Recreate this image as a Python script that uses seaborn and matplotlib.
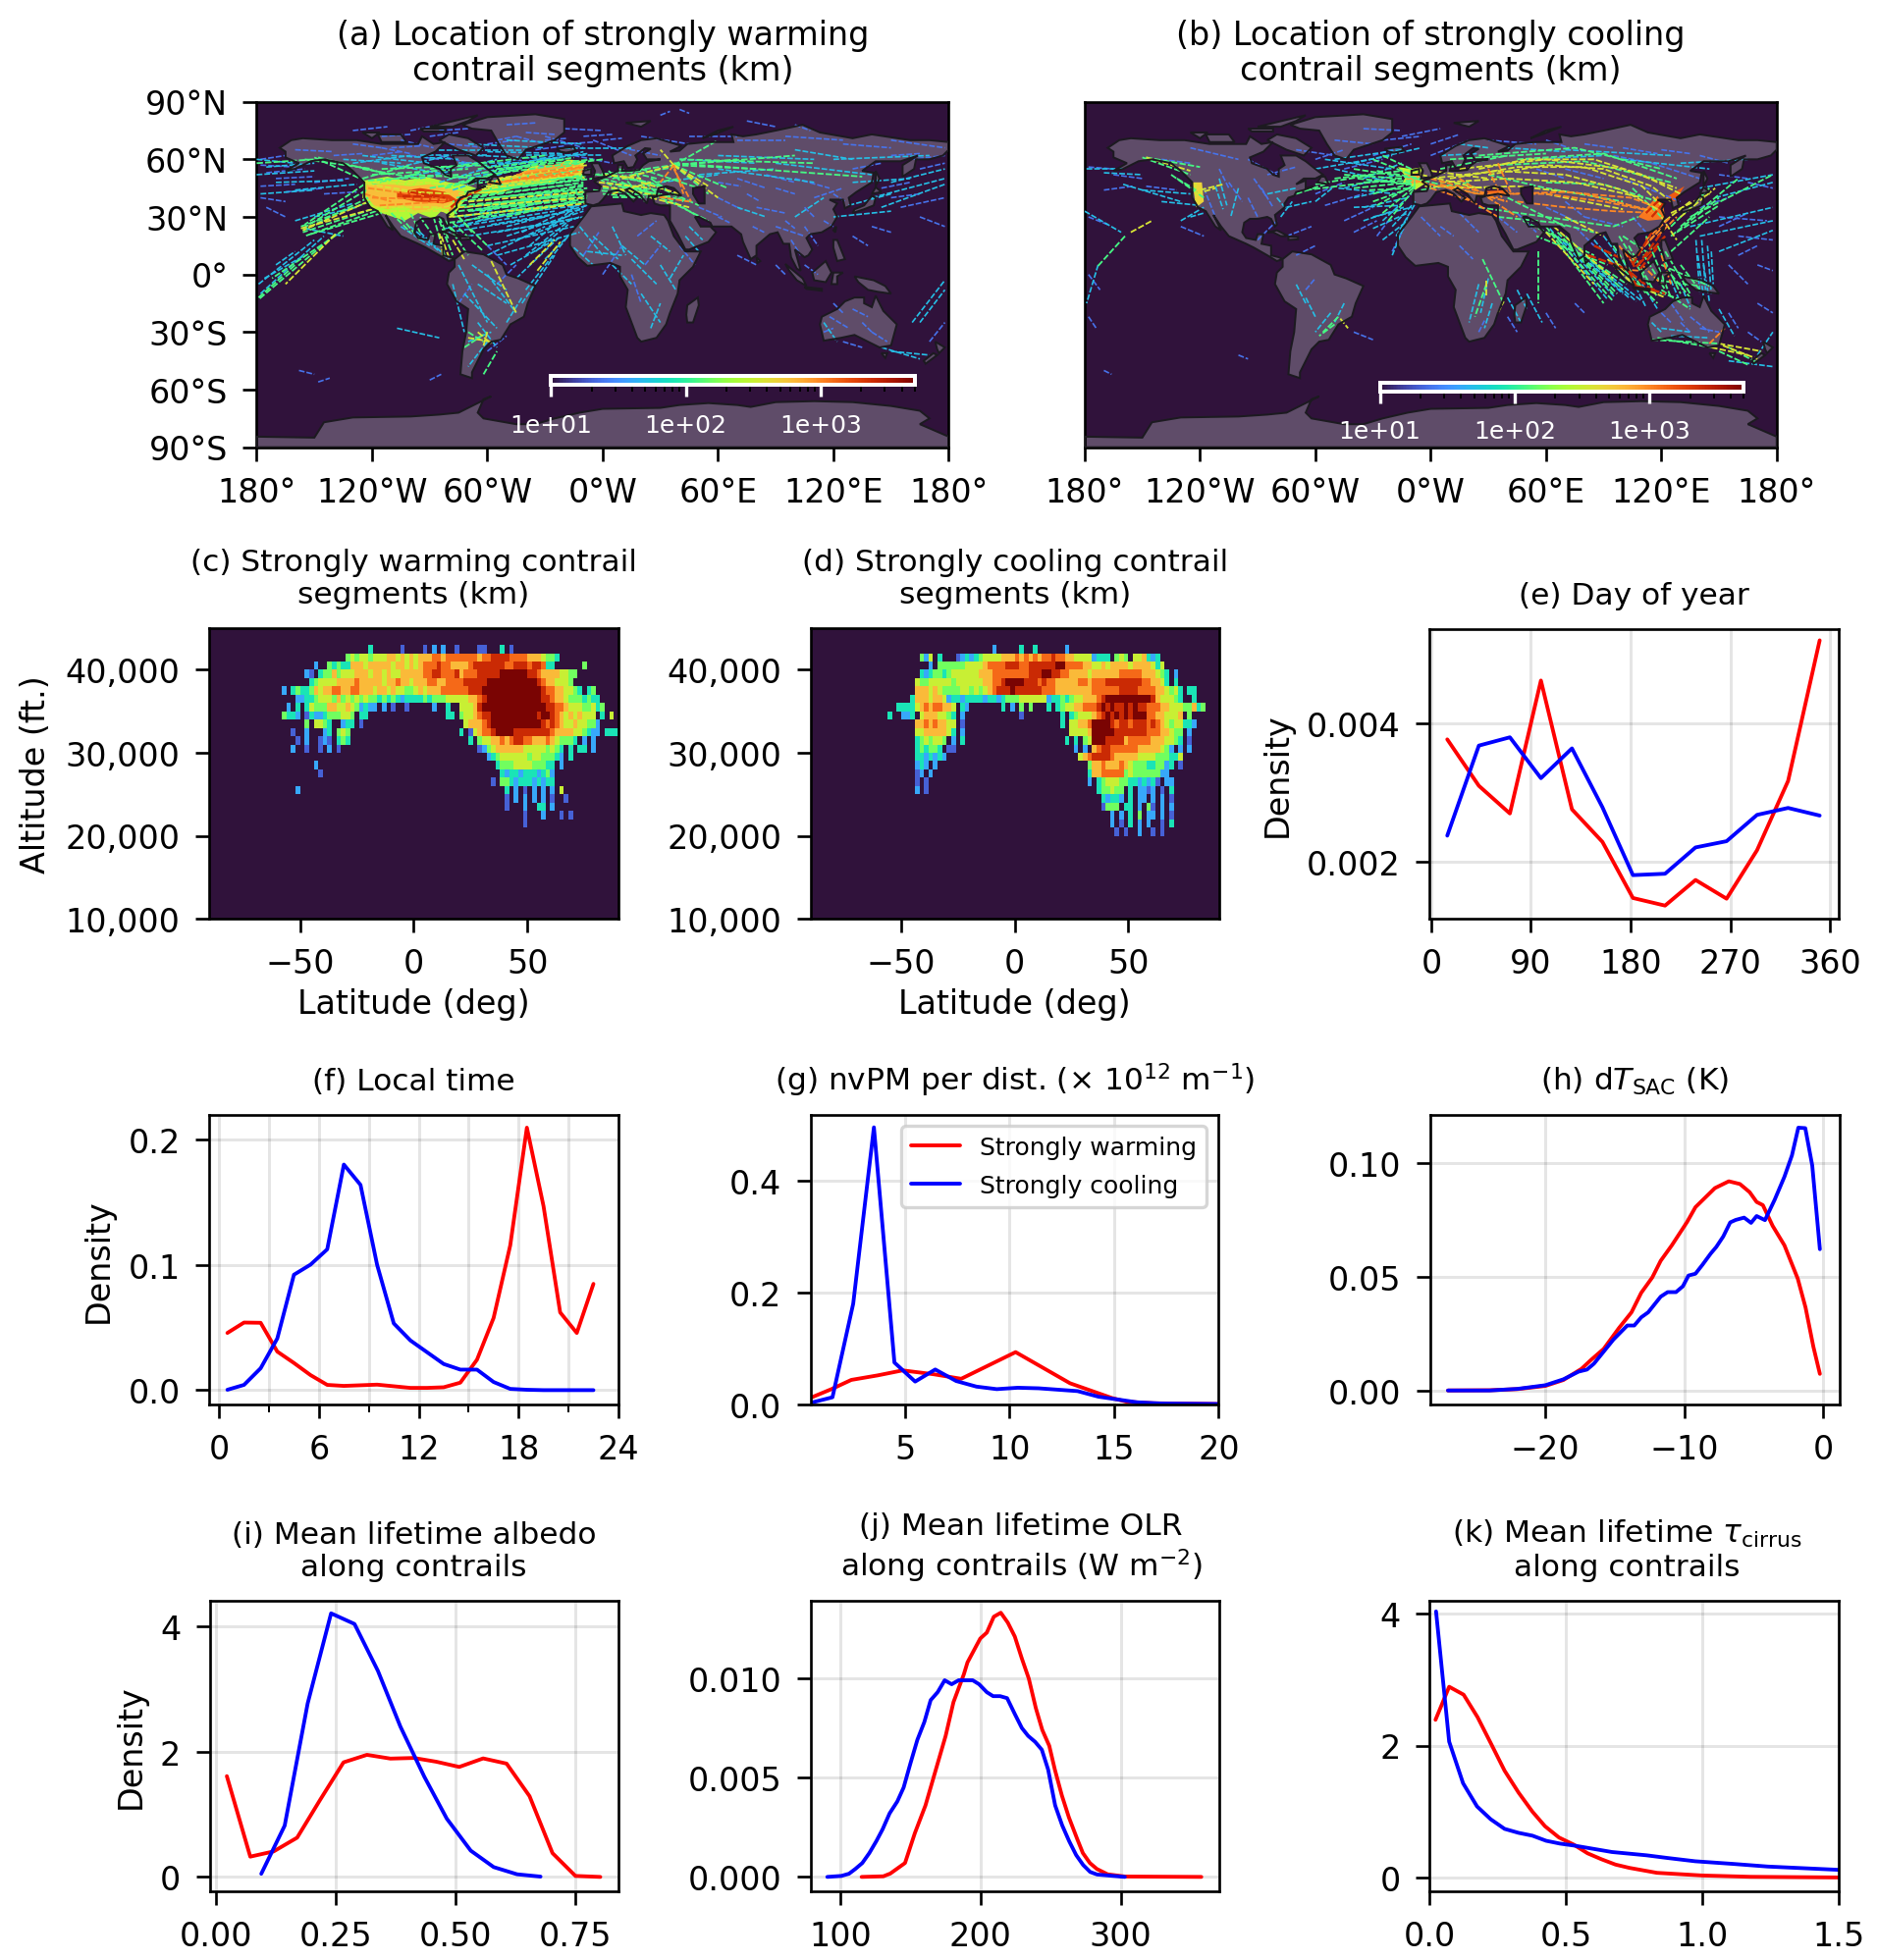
import numpy as np
import pandas as pd
import matplotlib
matplotlib.use('Agg')
import matplotlib.pyplot as plt
from matplotlib.cm import ScalarMappable
from matplotlib.colors import LogNorm
import seaborn as sns

# ---- density curves ----
day_x = [14.5, 43, 71, 99, 127, 154.5, 182, 211, 238.5, 266.5, 294, 322, 350.5]
day_warm = [.00377, .00310, .00270, .00462, .00276, .00229, .00148, .00137, .00174, .00147, .00217, .00317, .00520]
day_cool = [.00238, .00368, .00380, .00321, .00364, .00279, .00181, .00183, .00221, .00230, .00268, .00278, .00267]

hour_x = [.5, 1.5, 2.5, 3.5, 4.5, 5.5, 6.5, 7.5, 8.5, 9.5, 10.5, 11.5, 12.5, 13.5, 14.5, 15.5, 16.5, 17.5, 18.5, 19.5, 20.5, 21.5, 22.5]
hour_warm = [.0457, .054, .0538, .0308, .0217, .012, .0042, .0034, .0039, .0044, .0031, .0018, .0018, .0023, .006, .0243, .0577, .1157, .2097, .147, .0621, .0457, .0849]
hour_cool = [.0003, .0042, .0175, .0413, .0922, .1003, .1125, .1802, .164, .1, .0533, .0397, .0303, .0209, .0164, .0164, .0065, .001, .0003, 0, 0, 0, 0]

nvpm_warm_x = [.5, 1.5, 2.45, 3.7, 4.9, 6.4, 7.7, 10.3, 12.9, 14.9, 15.6, 16.9, 20]
nvpm_warm = [.012, .0275, .044, .052, .061, .054, .046, .0936, .038, .0117, .005, .0023, .001]
nvpm_cool_x = [.5, 1.55, 2.54, 3.53, 4.51, 5.5, 6.46, 7.46, 8.43, 9.4, 10.4, 11.4, 13.26, 14.26, 15, 16.1, 17.3, 20]
nvpm_cool = [.003, .013, .18, .495, .075, .041, .0626, .042, .032, .0275, .030, .029, .024, .014, .010, .004, .0018, .001]

dt_warm_x = [-27, -24, -22, -20, -18.7, -17.4, -16.7, -15.8, -14.7, -13.8, -13.1, -12.3, -11.7, -10.9, -9.8, -9.2, -7.8, -6.8, -6, -5.3, -4.8, -4.35, -3.65, -2.8, -1.84, -1.28, -.72, -.25]
dt_warm = [0, .0001, .0006, .002, .0046, .0095, .0135, .0183, .0275, .0344, .043, .0498, .0571, .0639, .0742, .0807, .0891, .0921, .0909, .0873, .083, .0816, .0725, .0639, .0492, .0365, .0193, .0073]
dt_cool_x = [-27, -24, -22, -20, -18.7, -17.6, -17, -16.5, -15.8, -15.1, -14.1, -13.6, -13.1, -12.6, -11.7, -11.2, -10.6, -10.1, -9.7, -9.2, -8.7, -8.1, -7.7, -7.2, -6.7, -6.3, -5.7, -5.2, -4.8, -4.2, -3.5, -2.8, -2.26, -1.8, -1.3, -.8, -.25]
dt_cool = [0, 0, .0007, .0023, .0049, .0083, .0092, .0118, .0171, .0224, .0286, .0286, .0322, .0344, .0413, .0433, .0433, .0459, .0506, .0514, .0553, .0603, .0632, .0678, .074, .0751, .0761, .0738, .0768, .075, .084, .0941, .1035, .1157, .1155, .0991, .0622]

albedo_warm_x = [.022, .071, .12, .169, .217, .266, .315, .364, .413, .46, .508, .558, .607, .655, .703, .751, .803]
albedo_warm = [1.61, .324, .408, .627, 1.23, 1.83, 1.95, 1.89, 1.90, 1.84, 1.757, 1.893, 1.81, 1.29, .38, .016, 0]
albedo_cool_x = [.094, .143, .191, .24, .289, .338, .385, .435, .482, .532, .58, .629, .678]
albedo_cool = [.05, .82, 2.77, 4.21, 4.04, 3.29, 2.4, 1.6, .93, .42, .157, .042, .005]

olr_warm_x = [115, 130.5, 135.5, 146, 153, 160.6, 168, 175, 180.6, 188, 190.6, 199.7, 204.4, 209.4, 214.4, 219.4, 224.4, 229.4, 234.4, 239.4, 244, 249, 253, 258, 263, 269, 273, 278, 283, 290.7, 303, 357.6]
olr_warm = [0, .00003, .00017, .0007, .0022, .0036, .0054, .0071, .0088, .0102, .0108, .012, .0123, .0131, .0133, .0128, .0121, .011, .00998, .0085, .0074, .0066, .0054, .0041, .003, .0019, .0012, .0007, .0004, .00013, .00002, 0]
olr_cool_x = [90.5, 100.5, 106, 110.5, 115.5, 120.5, 125.5, 130, 135, 140.5, 145, 149.8, 154.8, 159.8, 164.3, 169.3, 174.3, 179.3, 184.3, 194.3, 198.9, 204.4, 208.9, 213.9, 218.9, 224.4, 229.4, 233.9, 238.9, 243.7, 248.2, 253.2, 258.2, 263.2, 268.2, 273.2, 278.2, 283.2, 303]
olr_cool = [0, .00005, .00016, .0004, .0007, .0012, .0018, .0024, .0032, .0038, .0045, .0057, .0069, .0078, .0089, .0093, .0099, .0097, .0099, .0099, .0097, .0093, .0091, .0091, .009, .0082, .0075, .0071, .0068, .0064, .0054, .0036, .0026, .0018, .0011, .0006, .00025, .00012, 0]

tau_warm_x = [.022, .072, .125, .176, .224, .275, .326, .377, .423, .474, .529, .579, .63, .681, .732, .833, .998, 1.175, 1.5]
tau_warm = [2.39, 2.89, 2.77, 2.43, 2.04, 1.62, 1.29, 1.0, .78, .61, .50, .37, .28, .2, .15, .075, .035, .015, .005]
tau_cool_x = [.024, .072, .123, .174, .224, .275, .326, .377, .427, .478, .529, .668, .795, .871, .973, 1.112, 1.239, 1.5]
tau_cool = [4.03, 2.06, 1.43, 1.08, .886, .74, .68, .637, .56, .517, .488, .39, .34, .3, .25, .21, .17, .12]

# ---- altitude/latitude heatmaps: one string per 1000 ft band, 2 deg cells from 60S, digit = colour level ----
heat_warm = [
    "", "",
    ".......... .......... 3......1.. ..1.2.2..1 ....11...3 .1........",
    ".......... .....45455 4555665656 5666776777 7777677888 8777766654 43........",
    "........2. .434336665 6666656656 5677787766 6678888888 7788878873 3......4..",
    "......21.3 4464555666 5665655666 6677887778 6777888889 9999988766 665544....",
    ".......345 5556666766 6665667665 6667766777 7888889999 9999999876 65554.....",
    ".2.3433465 6677667766 6566565544 5656667777 7788899999 9999999987 7665543.34",
    "....223345 5546454545 4434343233 3343444555 5566789999 9999999988 7665444343 3....",
    "..2.3.3544 4665565423 22.2.1..1. ....2..3.. 5556899999 9999999998 8776555445 34...",
    ".4332.1322 3444554.33 .......... .......33. 4556788999 9999999899 8765656555 .3.5.",
    "......4.55 43..233.1. .......... .......... .566678999 9999999987 8765565544 2....",
    "...1..2... 23.454.... .......... .......... 3.15677899 9988888888 7666655432 2.333",
    "....1.2..1 21.343.... .......... .......... ..3.455667 6788776667 654443.2.2",
    "...2..1..1 .2.1...... .......... .......... ....124566 6666555554 543.3.33.2",
    ".......... .......... .......... .......... ......2345 5555545544 432.3.....",
    "........2. .......... .......... .......... ........34 4455554443 3.2.......",
    ".........1 .......... .......... .......... .........3 2332333234 2.........",
    ".......... .......... .......... .......... .......1.4 4323332323 3.........",
    "....2..... .......... .......... .......... .......... 3.2.1.2.2. 2.5.......",
    ".......... .......... .......... .......... .......... 1.2.2.2.2. 1..1......",
    ".......... .......... .......... .......... .......... 1...2..33. 2.........",
    ".......... .......... .......... .......... .......... ....1...2. ..1.1.....",
    ".......... .......... .......... .......... .......... ....1.....",
]
heat_cool = [
    "", "",
    ".......... .......... .....2.... .3..3..... .2........",
    ".........4 25.3...123 2345555666 7676767787 7665555233 3.454.5563 23........",
    ".......... .2.4444445 5556777788 8778888889 9777766556 5666656666 535.......",
    ".........3 2344345555 5566677777 7778889988 7766665666 6667777766 6543.2....",
    "........54 4555554555 5556677899 9988878776 6666776777 8888888877 6653.3....",
    "........66 6565444455 4545678889 8888887776 6666666777 7778888777 7665453.33",
    ".......366 6566523323 3332332344 4555555233 4345566678 9999999999 8655543..3",
    "....333356 7677665.32 .......3.2 .4.4...3.3 4556677789 8988989887 7766555446 34...",
    "..3..223.5 6665543.2. .......... .1........ 3.34555678 9898989997 7665556.4.",
    "........66 7676655.1. .......... .......... 3.55667999 9878878887 8765455332",
    "........55 6666653.2. .......... .......... ..55556999 9988888887 7766544.2.",
    "........34 54554.2.3. .......... .......... .3.3.45999 8888677777 6665543.1.",
    "........34 3443.11... .......... .......... ...2.2.678 8777777666 66542.2.2.",
    "........33 23232..... .......... .......... ....567888 8766666555 5444335...",
    "........23 2.2....... .......... .......... ......4667 6667654443 34423.1...",
    "........12 .2........ .......... .......... ......3667 7777454444 4422......",
    "........1. 1......... .......... .......... ......2.34 5554433232 31.22.....",
    "........2. 1......... .......... .......... ........34 4544.3.221 2.1.3.....",
    ".......... .......... .......... .......... .........3 2332.3.22. 2.2.1.....",
    ".......... .......... .......... .......... .........1 444.33.2.4 1.2.2.....",
    ".......... .......... .......... .......... .......... .2.2.3.4.2 2.2.1.....",
    ".......... .......... .......... .......... .......... .2.1.3.2.2 ..1.3.....",
    ".......... .......... .......... .......... .......... ..1.1..2.. 1.1.......",
]

# ---- land outlines (lon, lat) ----
land = [
    [(-168,66),(-162,70),(-156,71),(-141,70),(-128,70),(-115,68),(-108,68),(-96,68),(-94,72),(-88,68),(-82,69),(-87,64),(-94,61),(-93,58),(-85,55),(-82,52),(-79,51),(-79,55),(-76,57),(-78,62),(-70,62),(-65,59),(-60,55),(-56,52),(-60,50),(-66,50),(-70,47),(-65,49),(-65,45),(-61,46),(-66,44),(-70,43),(-71,41),(-74,40),(-76,37),(-76,35),(-81,31),(-80,26),(-81,25),(-83,29),(-85,30),(-90,29),(-94,29),(-97,27),(-98,22),(-96,19),(-91,18),(-90,21),(-87,21),(-88,16),(-83,15),(-83,10),(-79,9),(-77,8),(-80,7),(-85,10),(-92,14),(-96,16),(-105,20),(-109,25),(-113,31),(-109,23),(-112,25),(-117,33),(-121,35),(-124,40),(-124,48),(-130,54),(-135,58),(-145,60),(-152,59),(-160,55),(-165,54),(-158,58),(-165,61),(-165,64)],
    [(-73,78),(-60,82),(-35,83.5),(-20,81),(-20,74),(-25,70),(-40,65),(-44,60),(-50,62),(-54,68),(-58,75),(-68,76)],
    [(-80,73),(-70,71),(-62,66),(-66,62),(-75,65),(-85,70)],
    [(-117,73),(-105,73),(-102,69),(-115,69)],
    [(-90,77),(-65,83),(-70,80),(-78,77)],
    [(-125,74),(-116,74),(-120,71)],
    [(-95,76),(-82,76),(-82,74.5),(-93,74.5)],
    [(-59,48),(-53,47),(-55,51),(-57,51)],
    [(-24,65.5),(-15,66.5),(-14,64.5),(-19,63.5),(-22,64)],
    [(-85,22),(-80,23),(-74,20),(-78,20),(-82,22)],
    [(-74,19.8),(-69,19.5),(-69,18.3),(-74,18)],
    [(-77,8),(-72,12),(-62,10.5),(-52,5),(-50,0),(-44,-2),(-35,-6),(-39,-15),(-41,-22),(-48,-26),(-53,-34),(-58,-35),(-62,-39),(-65,-45),(-68,-51),(-68,-54),(-74,-52),(-73,-40),(-71,-30),(-70,-18),(-76,-14),(-81,-5),(-80,1),(-77,4)],
    [(-17,15),(-17,21),(-10,30),(-6,35.5),(10,37),(11,33),(20,31),(25,32),(32,31),(34,28),(37,20),(43,12),(51,12),(47,4),(40,-3),(39,-10),(35,-20),(33,-26),(28,-33),(20,-35),(18,-33),(12,-17),(13,-8),(9,-1),(9,4),(4,6),(-4,5),(-8,4.5),(-13,9)],
    [(44,-16),(49.5,-12),(50,-16),(47,-25),(44,-25),(43.5,-21)],
    [(-9,37),(-9,43),(-2,43.5),(-1,46),(-4.5,48.5),(2,51),(8,54),(8,57),(10.5,57),(10,54),(14,54),(19,54.5),(21,57),(24,59),(30,60),(23,60),(21,63),(25,65.5),(22,65.8),(17,62),(18,60),(16,56),(13,55.5),(11,59),(6,58),(5,62),(13,67),(20,70),(28,71),(41,67),(35,64),(40,64.5),(44,68),(54,69),(68,69),(67,73),(73,72),(80,73),(90,75),(104,78),(113,74),(130,71),(140,73),(160,70),(170,70),(180,69),(180,65),(177,62),(170,60),(163,60),(162,55),(156,51),(156,57),(164,62),(155,59),(142,59),(135,54),(141,53),(140,48),(132,43),(128,40),(129,36),(126,34.5),(125,39),(121,39),(118,39),(122,37),(120,34),(122,30),(119,25),(114,22),(108,21),(106,19),(109,13),(107,10),(105,9),(100,13),(103,2),(101,3),(98,9),(97,16),(94,16),(91,22),(87,21),(80,15),(80,10),(77,8),(73,17),(72,21),(67,25),(57,25),(56,27),(50,30),(48,30),(51,25),(56,25),(59,22),(55,17),(45,13),(43,13),(39,21),(35,28),(35,36),(30,36),(27,37),(26,40),(29,41),(35,42),(41,41),(37,45),(33,46),(29,45),(28,41),(24,41),(23,37),(19,42),(14,45),(12,44),(18,40),(16,38),(12,42),(8,44),(3,43),(0,39),(-2,37),(-5,36)],
    [(-5,50),(1,51),(0,54),(-2,58),(-6,58),(-4,54)],
    [(-10,52),(-6,52),(-6,55),(-10,54)],
    [(130,32),(136,34),(141,36),(142,40),(140,41),(136,36),(131,34)],
    [(140,42),(145,43),(142,45.5)],
    [(142,46),(144,50),(142,54),(142,50)],
    [(120,23),(121.5,25),(121,22)],
    [(120,18),(122,18),(124,13),(126,8),(122,7),(120,14)],
    [(95,5.5),(104,-2),(106,-6),(101,-3),(97,2)],
    [(105,-6.5),(114,-7.5),(114,-8.5),(106,-7.5)],
    [(109,1),(116,7),(119,1),(116,-4),(110,-3)],
    [(119,-5),(120,1),(125,1),(122,-1),(122,-5)],
    [(131,-1),(141,-3),(147,-6),(150,-10),(143,-9),(138,-8),(133,-4)],
    [(80,9),(82,7),(80.5,6)],
    [(114,-22),(122,-18),(126,-14),(131,-12),(136,-12),(136,-15),(140,-17),(142,-11),(146,-19),(153,-26),(150,-37),(144,-38),(138,-35),(131,-31.5),(124,-33),(115,-34.5),(113,-26)],
    [(145,-41),(148,-41),(147,-43.5)],
    [(173,-35),(178,-38),(175,-41),(174,-39)],
    [(172,-41),(174,-42),(168,-46.5),(167,-45)],
    [(12,79),(25,80),(20,77)],
    [(52,71),(60,75),(68,77),(58,73)],
    [(-180,-90),(-180,-84.5),(-150,-85),(-145,-77),(-130,-74.5),(-100,-74),(-85,-73),(-75,-72),(-65,-67),(-58,-63.5),(-62,-65),(-65,-72),(-62,-75),(-45,-78),(-35,-78),(-25,-75),(-12,-72),(0,-70),(30,-69.5),(40,-68),(55,-67),(70,-68),(77,-69),(90,-66.5),(110,-66),(130,-66.5),(150,-68.5),(165,-71),(170,-75),(165,-78),(180,-84.5),(180,-90)],
]
caspian = [(47,45),(53,46),(53,37),(50,37),(47,42)]

# ---- panel (a): dense patches (colour level, outline), then routes per colour level ----
a_patches = [
    (.52, [(-124,49),(-112,51),(-103,49),(-92,51),(-80,48),(-72,47),(-66,45),(-69,41),(-73,37),(-78,30),(-84,33),(-88,29),(-96,32),(-103,28),(-112,31),(-118,33),(-125,40)]),
    (.66, [(-123,47),(-110,47),(-100,46),(-90,47),(-82,45),(-72,43),(-75,38),(-80,34),(-88,35),(-95,32),(-104,36),(-112,34),(-119,36),(-123,41)]),
    (.84, [(-107,43),(-95,45),(-82,43),(-76,39),(-83,37),(-97,38),(-107,40)]),
    (.56, [(-68,42),(-60,45),(-54,50),(-44,52),(-36,57),(-24,57),(-18,60),(-9,59),(-12,54),(-9,50),(-20,50),(-30,47),(-42,46),(-55,42)]),
    (.7, [(-56,47),(-40,54),(-22,58),(-10,57),(-10,53),(-30,50),(-48,46)]),
]
a_blue = [(-178,57,-160,56),(-175,53,-155,55),(-170,50,-150,51),(-178,46,-160,47),(-165,43,-145,45),(-150,48,-132,50),(-145,42,-128,43),(-178,40,-165,38),(-50,78,-35,79),(-40,74,-25,73),(-30,70,-18,71),(-55,70,-45,72),(-20,76,0,75),(-10,72,5,73),(0,70,10,71),(-20,68,-5,69),(-35,65,-20,67),(-120,62,-105,64),(-110,66,-95,67),(-100,62,-85,60),(-90,72,-75,74),(-115,72,-100,73),(-130,68,-115,66),(-85,75,-70,76),(-130,75,-112,77),(30,83,35,85),(40,86,45,84),(75,80,90,77),(100,78,108,75),(60,48,72,46),(75,42,82,38),(90,45,100,42),(105,35,110,30),(115,28,120,25),(95,28,100,24),(78,25,84,22),(60,30,66,27),(120,42,126,38),(130,55,145,58),(150,62,165,63),(165,55,178,58),(145,45,160,48),(150,40,165,42),(155,35,178,40),(165,30,178,25),(140,25,150,22),(130,20,138,15),(105,5,112,0),(70,10,80,5),(90,5,95,0),(120,-15,125,-20),(135,-25,140,-30),(115,-30,120,-28),(125,-35,135,-38),(-158,-50,-150,-52),(-148,-56,-142,-54),(-90,-55,-84,-52),(-175,35,-165,30),(-60,15,-50,5),(-45,72,-30,68),(-100,75,-85,78),(-178,60,-165,62),(-160,65,-140,64),(-140,62,-125,63),(-115,66,-100,63),(-105,70,-88,66),(-85,62,-70,58),(-80,68,-60,66),(-60,68,-45,70),(-45,60,-30,56),(-30,72,-10,66),(-15,62,5,58),(-5,70,15,62),(10,66,30,62),(20,72,45,68),(45,72,70,72),(70,70,95,70),(95,72,125,70),(125,68,150,66),(150,70,178,66),(160,60,178,62),(70,50,85,45),(85,52,100,48),(100,50,118,45),(110,40,125,45),(80,35,95,32),(90,25,105,20),(60,40,72,34),(50,35,62,30),(105,25,112,15),(98,18,103,10),(40,15,48,5),(-10,10,-2,22),(0,0,10,15),(15,0,20,-15),(22,5,30,15),(18,20,28,28),(-60,-40,-50,-32),(-75,-15,-68,-5),(-55,-5,-45,5),(118,-22,128,-28),(130,-18,138,-22),(140,-30,148,-35),(170,-35,178,-25)]
a_cyan = [(-179,-5,-150,18),(-178,-10,-145,20),(-176,-2,-155,10),(-180,60,-160,58),(-175,56,-150,58),(-180,52,-150,54),(-170,48,-135,49),(-160,44,-128,47),(-178,42,-150,44),(-150,30,-128,35),(-160,28,-130,37),(-155,24,-135,20),(-125,62,-90,58),(-115,58,-80,52),(-110,62,-75,60),(-95,62,-60,62),(-85,65,-40,65),(-70,68,-30,66),(-60,64,-20,63),(-50,70,-10,68),(-40,62,0,62),(-75,58,-40,58),(-65,62,-20,60),(-20,66,15,66),(-75,25,-25,33),(-70,20,-20,28),(-60,15,-15,25),(-55,10,-12,22),(-50,20,-10,33),(-40,10,-15,30),(-65,28,-15,38),(-60,10,-30,25),(-48,5,-25,18),(-45,-2,-22,20),(-40,-8,-18,20),(-42,-15,-25,10),(-12,25,0,10),(-5,20,8,8),(5,25,12,10),(10,15,22,5),(15,8,28,-5),(25,20,35,12),(-8,12,10,10),(20,-10,30,-25),(25,-28,30,-15),(5,5,15,-5),(-15,14,-5,5),(30,5,38,-8),(35,-2,42,10),(43,20,50,12),(45,25,52,18),(-75,5,-60,-25),(-72,-10,-55,-28),(-65,-5,-50,-15),(-78,-5,-72,-30),(-60,0,-45,-20),(-68,5,-50,-8),(-60,-35,-70,-48),(-65,-25,-55,-38),(-70,-35,-58,-30),(-50,-25,-42,-12),(-100,25,-85,12),(-95,22,-80,8),(-105,25,-90,15),(40,60,80,58),(50,52,90,55),(60,62,110,60),(90,58,140,52),(100,65,130,60),(60,55,110,48),(120,60,170,62),(130,48,160,50),(140,40,178,50),(145,35,178,47),(150,48,178,55),(128,36,150,42),(120,30,150,33),(161,-25,178,-3),(165,-25,178,-8),(145,-38,165,-44),(150,-40,170,-42),(115,-25,122,-35),(-107,-28,-85,-33),(-170,5,-160,12),(30,48,60,52),(70,35,85,30),(100,30,115,40),(-78,44,-30,60),(-70,50,-10,64),(-62,56,-8,63),(-75,50,-25,62),(-85,48,-45,60),(-95,50,-55,60),(-105,50,-70,58),(-110,55,-80,62),(-130,58,-100,62),(-135,60,-105,58),(-80,22,-30,30),(-82,24,-35,34),(-76,27,-30,38),(-72,30,-25,42),(-68,33,-20,44),(-62,30,-12,36),(-58,26,-10,34),(-55,22,-10,30),(-50,25,-8,36),(-45,18,-12,30),(-42,22,-10,38),(-38,15,-15,35),(-35,12,-18,26),(-30,8,-16,22),(-28,25,-7,37)]
a_green = [(-75,42,-10,50),(-70,38,-10,46),(-68,44,-8,52),(-72,35,-9,43),(-65,30,-12,42),(-78,30,-9,38),(-70,47,-5,55),(-60,52,0,60),(-55,55,-5,60),(-80,50,-20,60),(-90,55,-30,62),(-75,33,-15,40),(-60,35,-10,47),(-50,30,-8,40),(-80,27,-20,36),(-122,49,-75,52),(-120,52,-70,55),(-115,55,-60,57),(-100,52,-60,50),(-125,55,-95,50),(-90,45,-60,50),(-78,27,-62,12),(-80,25,-70,10),(-85,28,-78,10),(-88,30,-82,9),(-75,30,-60,15),(-124,47,-155,26),(-123,44,-156,24),(-122,40,-156,23),(-121,38,-157,25),(-120,34,-156,22),(-118,33,-155,20),(-115,32,-152,21),(-139,21,-179,-13),(-135,23,-172,-2),(-180,58,-150,60),(-150,61,-124,49),(-148,61,-110,52),(-155,60,-120,55),(0,52,37,57),(5,50,37,56),(-5,52,20,54),(10,45,40,50),(0,45,30,42),(5,40,28,40),(10,48,35,38),(15,45,45,38),(20,55,50,45),(37,57,70,60),(37,57,80,55),(37,57,55,42),(37,57,65,45),(37,57,100,62),(37,58,135,51),(40,60,110,58),(37,57,60,70),(-70,-30,-62,-35),(-72,-38,-60,-30),(-62,-52,-55,-40),(-179,-12,-160,5),(-78,38,-12,44),(-76,40,-14,47),(-74,36,-16,41),(-72,43,-12,49),(-70,33,-14,39),(-68,40,-10,48),(-66,36,-9,42),(-64,33,-10,44),(-62,46,-9,51),(-58,40,-8,45),(-55,44,-5,50),(-52,35,-8,41),(-48,33,-9,38),(-45,50,-12,58),(-50,55,-15,61),(-65,55,-25,60),(-75,48,-35,57),(-82,45,-50,54),(-125,50,-100,57),(-120,47,-95,53),(-100,32,-95,22),(-95,30,-88,20),(-85,30,-80,18),(-110,32,-100,22),(-105,30,-95,18),(-82,28,-75,20),(-78,34,-68,22),(-3,52,25,48),(0,50,22,44),(2,48,28,42),(5,52,30,46),(8,55,28,50),(-5,44,20,42),(0,42,22,40),(8,46,30,44),(12,42,35,41),(15,50,32,46),(-2,50,12,42),(3,54,15,44),(10,52,22,38),(18,52,25,40),(22,48,35,36),(25,50,42,38),(28,46,50,36),(30,42,50,30),(35,38,55,28)]
a_yellow = [(-120,34,-157,24),(-122,38,-156,23),(-139,21,-165,-5),(-75,42,-10,53),(-65,45,-10,54),(-60,48,-10,56),(-55,50,-8,57),(-122,47,-90,42),(-118,44,-78,42),(-110,49,-80,47),(-124,48,-95,47),(-120,35,-85,35),(-115,33,-80,33),(-100,32,-78,36),(-80,36,-62,46),(-72,41,-55,47),(-70,38,-10,43),(-75,35,-9,40),(-80,30,-9,37),(0,52,20,50),(-2,48,25,45),(5,42,25,48),(0,46,35,40),(10,50,37,57),(20,48,40,42),(25,40,45,35),(-78,18,-72,8),(-85,22,-83,9),(-84,20,-80,9),(-38,5,-25,18),(-34,2,-22,17),(-58,7,-45,-20),(-65,-30,-58,-36),(-62,-37,-60,-30),(-70,-33,-58,-35),(37,57,30,65),(37,57,60,40),(37,57,55,46)]
a_orange = [(-60,47,-10,56),(-55,48,-10,54),(-45,52,-12,56),(-40,50,-15,52),(-122,45,-85,40),(-120,40,-80,39),(-116,36,-82,38),(-80,33,-70,42),(-124,42,-110,38),(37,57,42,42),(37,57,30,48),(37,55,46,38),(25,41,45,38)]
a_red = [(-77,38,-62,45),(-79,35,-72,41),(-104,41,-85,41),(-100,43,-82,40)]

# ---- panel (b) ----
b_patches = [
    (.54, [(-17,56),(-10,55),(-4,56),(-6,51),(-2,48),(-8,44),(-11,47),(-15,47),(-13,51)]),
    (.7, [(-14,52),(-6,53),(-5,48),(-11,47)]),
    (.76, [(108,30),(118,41),(121,36),(122,29),(113,28)]),
    (.8, [(122,40),(132,46),(127,38)]),
    (.78, [(29,43.5),(40,44),(40,41.5),(31,41.5)]),
    (.62, [(-124,48),(-119,48),(-118,38),(-122,35)]),
]
b_blue = [(-178,56,-165,55),(-165,52,-150,50),(-170,44,-155,46),(-148,46,-132,44),(-178,30,-168,26),(-178,0,-172,-8),(-178,-22,-174,-28),(-130,25,-118,20),(-105,48,-98,38),(-110,55,-105,45),(-92,50,-85,40),(-85,52,-70,56),(-60,60,-45,65),(-50,70,-30,68),(-35,76,-15,75),(-15,72,5,76),(0,68,15,73),(-30,62,-10,68),(-45,55,-25,60),(-60,42,-45,48),(-55,36,-35,42),(-45,28,-30,35),(-40,22,-28,28),(-28,20,-22,28),(-20,12,-14,24),(-90,18,-80,28),(-75,20,-62,25),(-70,10,-60,15),(-65,-8,-60,-2),(-40,-30,-30,-34),(-100,-42,-95,-44),(-170,-50,-166,-52),(15,15,22,8),(5,25,12,20),(25,-30,28,-24),(60,70,72,66),(80,68,95,66),(100,66,118,63),(120,65,135,63),(140,62,155,58),(150,52,165,50),(165,48,178,45),(150,30,175,28),(160,20,178,18),(170,5,178,2),(170,-15,178,-20),(130,-25,135,-30),(120,-20,125,-25),(155,-20,160,-28),(165,-30,172,-35),(60,-20,65,-28),(75,-15,80,-20),(40,-22,45,-30),(-125,66,-100,60),(-140,60,-125,58),(-95,60,-80,52),(-70,65,-50,62),(-25,70,-5,72),(0,62,20,70),(30,70,55,68),(55,55,70,50),(70,55,90,50),(95,62,115,58),(115,58,140,50),(100,50,130,38),(70,38,80,30),(80,30,100,25),(60,35,75,28),(75,25,85,15),(105,30,112,22),(35,30,45,22),(45,32,55,22),(-5,30,5,20),(15,32,25,22),(140,35,155,40),(150,25,165,32),(160,10,170,15),(155,5,165,-5),(125,-15,132,-25),(135,-22,145,-30),(140,-28,150,-30),(-118,45,-112,30),(-95,40,-90,30),(-88,45,-82,35)]
b_cyan = [(-180,33,-161,22),(-173,5,-179,-15),(-160,55,-180,55),(-170,53,-150,52),(-160,47,-130,38),(-150,44,-125,42),(-140,38,-120,36),(-125,30,-118,32),(-130,28,-118,35),(-110,50,-106,36),(-100,45,-104,30),(-112,46,-108,34),(-85,42,-70,45),(-75,35,-62,38),(-80,40,-75,34),(-78,30,-72,38),(-60,55,-20,62),(-50,60,-15,65),(-40,58,-5,66),(-35,50,-15,58),(-45,45,-18,52),(-40,40,-18,45),(-35,35,-12,40),(-30,30,-10,35),(-25,28,-10,42),(-20,25,-8,38),(5,62,25,63),(15,68,30,66),(40,66,70,64),(50,60,90,62),(70,65,125,62),(100,60,145,55),(130,58,165,60),(140,45,178,52),(148,40,178,48),(135,25,178,35),(140,20,178,28),(150,12,178,23),(138,18,140,-10),(141,18,143,-8),(144,15,146,-10),(146,12,147,-5),(139,10,142,-12),(142,5,145,-14),(62,24,92,-13),(66,20,96,-12),(70,17,100,-10),(74,14,103,-12),(80,10,107,-14),(85,6,110,-14),(105,-3,112,-17),(110,-5,118,-18),(125,-3,130,-15),(130,-5,135,-17),(150,-18,158,-32),(-65,-15,-70,-5),(-60,-22,-65,-12),(-52,-20,-60,-30),(-45,-15,-50,-25),(25,-5,20,-25),(30,-2,26,-20),(32,-15,28,-28),(45,-8,50,-18),(40,-12,47,-25),(50,-10,58,-25),(-20,10,-12,30),(-60,38,-50,46),(115,-25,120,-30),(120,-28,135,-30),(125,-32,145,-33),(155,-45,178,-48),(170,-42,178,-30),(-55,60,-20,55),(-50,55,-20,48),(-48,45,-18,42),(-40,35,-15,36),(-35,28,-14,35),(-30,24,-12,32),(-25,18,-12,28),(-18,20,-8,37),(85,18,100,0),(88,14,105,-5),(90,20,107,-3)]
b_green = [(-148,61,-120,56),(-150,61,-125,52),(-135,52,-118,40),(-132,50,-122,44),(-159,20,-173,4.5),(-70,42,-55,47),(-60,47,-30,52),(-65,44,-15,50),(-50,50,-15,54),(-40,45,-10,48),(-30,38,-8,46),(-28,54,-5,50),(5,55,40,62),(10,60,60,63),(35,57,80,59,125,48),(25,62,75,66,120,55),(45,60,90,63,128,50),(60,48,90,47,118,38),(30,52,60,45,100,38),(25,35,60,30,95,25),(35,30,65,27,85,22),(60,25,90,-15),(63,22,95,-14),(66,22,97,-10),(70,20,100,-8),(72,15,95,-10),(80,10,102,-5),(56,12,56,-15),(125,25,145,45),(125,20,150,40),(130,25,160,50),(135,30,178,52),(128,22,150,36),(125,12,145,30),(108,-5,118,-15),(115,-8,130,-13),(120,-8,135,-18),(125,0,135,-12),(130,5,140,-8),(115,-34,150,-36),(118,-33,146,-38),(155,-38,170,-46),(150,-40,165,-47),(-48,-22,-56,-30),(-50,-26,-58,-32),(29,-5,23,-22),(27,8,38,-15),(40,40,70,25),(48,28,85,10),(55,20,92,5),(95,25,108,30),(105,45,120,30),(100,20,115,10),(-40,55,-8,50),(-35,48,-8,49),(-30,42,-8,48),(-28,36,-8,47),(-25,32,-8,46),(-22,28,-9,44),(-30,60,-10,52),(-25,62,-8,54),(-38,50,-10,47),(-32,44,-8,45),(-45,52,-15,50),(-8,50,25,42),(-5,44,20,48),(92,12,110,-8),(95,15,112,-10),(98,20,115,-8),(103,15,118,-12),(106,18,122,-8),(112,20,125,-12),(118,15,130,-10),(122,12,135,-10),(120,5,145,-6),(118,-3,140,-6)]
b_yellow = [(-148,61,-125,54),(-156,22,-145,28),(-122,48,-122,38),(-47,-23,-43,-28),(25,55,50,60,85,60,110,52,130,42),(30,52,60,57,90,55,115,46,125,38),(10,50,45,56,80,56,110,46,120,36),(0,50,35,54,70,52,100,44,118,34),(10,45,45,46,80,42,115,33),(15,55,60,60,100,55,128,45),(5,48,40,50,75,48,110,40),(29,-3,29,-12),(35,-20,38,-14),(-5,52,25,45),(-3,46,35,45),(0,54,30,50),(60,42,100,34),(70,30,90,20),(120,30,128,18),(122,28,135,38),(125,32,145,42),(130,30,148,45),(110,-7,122,-12),(150,-36,172,-40),(152,-37,170,-44),(146,-38,165,-42),(60,22,85,-5),(64,25,95,-2),(-122,42,-112,45),(-120,44,-108,47),(92,8,104,-4),(96,7,108,-8)]
b_orange = [(25,42,60,42,90,38,115,33),(45,38,70,35,95,33,118,32),(40,42,70,43,104,40,115,36),(0,50,30,42),(-5,48,35,40),(5,47,40,38),(0,45,22,38),(10,45,35,30),(15,50,45,30),(30,55,38,38),(35,58,42,42),(80,42,112,34),(145,-36,153,-28),(105,8,118,22),(108,12,120,24),(112,18,125,30),(118,20,128,30),(98,15,106,5),(110,5,120,-5),(96,3,108,2),(120,10,125,-5)]
b_red = [(82,10,102,3),(102,3,104,1),(103,2,107,-6),(104,1,115,-8),(107,-6,117,-8),(102,12,106,4),(105,5,115,22),(107,4,121,23),(109,3,118,14),(108,5,122,20),(115,-8,122,-10),(85,15,100,8),(112,32,120,40),(115,30,122,38)]

lon_ticks = [-180, -120, -60, 0, 60, 120, 180]
lon_labels = ['180°', '120°W', '60°W', '0°W', '60°E', '120°E', '180°']
lat_ticks = [90, 60, 30, 0, -30, -60, -90]
lat_labels = ['90°N', '60°N', '30°N', '0°', '30°S', '60°S', '90°S']
bar_ticks = [10, 100, 1000]
bar_labels = ['1e+01', '1e+02', '1e+03']

sns.set_theme(style='ticks', rc={
    'axes.linewidth': 0.8, 'xtick.major.size': 4.2, 'ytick.major.size': 4.2,
    'xtick.major.width': 0.8, 'ytick.major.width': 0.8, 'xtick.minor.size': 2.4,
    'xtick.minor.width': 0.6, 'xtick.major.pad': 4.6, 'ytick.major.pad': 4.6,
    'axes.edgecolor': 'black', 'xtick.color': 'black', 'ytick.color': 'black',
    'text.color': 'black', 'axes.labelcolor': 'black', 'axes.titlesize': 9.4,
    'axes.titlepad': 7.7, 'axes.labelsize': 10, 'xtick.labelsize': 10, 'ytick.labelsize': 10,
})
plt.rcParams['font.family'] = ['DejaVu Sans']
turbo = sns.color_palette('turbo', as_cmap=True)

W, H = 1913, 1998
DPI = 240
fig = plt.figure(figsize=((W - 0.2) / DPI, (H - 0.2) / DPI), dpi=DPI)


def box(x0, x1, y0, y1):
    return fig.add_axes([x0 / W, 1 - y1 / H, (x1 - x0) / W, (y1 - y0) / H])


def draw_routes(ax, routes, level, lw):
    for r in routes:
        ax.plot(r[0::2], r[1::2], color=turbo(level), lw=lw, dashes=(3.5, 1.2), dash_capstyle='butt', zorder=3)


def world_map(ax, patches, layers, title, bar_x, bar_y):
    ax.set_facecolor(turbo(0.0))
    for poly in land:
        xs, ys = zip(*poly)
        ax.fill(xs, ys, color='#5f4c69', lw=0, zorder=1)
    for level, poly in patches:
        xs, ys = zip(*poly)
        ax.fill(xs, ys, color=turbo(level), lw=0, zorder=2)
    for routes, level, lw in layers:
        draw_routes(ax, routes, level, lw)
    for poly in land:
        xs, ys = zip(*poly)
        ax.fill(xs, ys, facecolor='none', edgecolor='#1c1a20', lw=0.6, zorder=4)
    xs, ys = zip(*caspian)
    ax.fill(xs, ys, facecolor=turbo(0.0), edgecolor='#1c1a20', lw=0.6, zorder=4)
    ax.set_xlim(-180, 180)
    ax.set_ylim(-90, 90)
    ax.set_xticks(lon_ticks, lon_labels)
    ax.set_title(title, fontsize=10, linespacing=1.13, pad=6.6)
    cax = ax.inset_axes([bar_x, bar_y, .5258, .0255])
    cb = fig.colorbar(ScalarMappable(LogNorm(10, 5000), turbo), cax=cax, orientation='horizontal')
    cb.set_ticks(bar_ticks, labels=bar_labels)
    cb.outline.set_edgecolor('white')
    cb.outline.set_linewidth(1.2)
    cax.tick_params(axis='x', which='major', colors='white', labelcolor='white', length=3.5, width=1, labelsize=7.5, pad=5)
    cax.tick_params(axis='x', which='minor', colors='black', length=2, width=0.6)


def heat_panel(ax, rows, title, ylabel=None):
    vals = np.zeros((35, 90))
    for i, row in enumerate(rows):
        chars = row.replace(' ', '').ljust(75, '.')
        for j, c in enumerate(chars[:75]):
            if c != '.':
                vals[i, j + 15] = int(c)
    frame = pd.DataFrame(vals, index=np.arange(45000, 10000, -1000), columns=np.arange(-90, 90, 2))
    sns.heatmap(frame, ax=ax, cmap=turbo, vmin=0, vmax=9, cbar=False, xticklabels=False, yticklabels=False)
    for s in ax.spines.values():
        s.set_visible(True)
    ax.set_xticks([20, 45, 70], ['\u221250', '0', '50'], rotation=0)
    ax.set_yticks([5, 15, 25, 35], ['40,000', '30,000', '20,000', '10,000'], rotation=0)
    ax.set_xlabel('Latitude (deg)', labelpad=2.4)
    ax.set_ylabel(ylabel if ylabel else '')
    ax.set_title(title)


def line_panel(ax, wx, wy, cx, cy, title, xlim, ylim, xticks, yticks, yfmt, ylabel=None):
    sns.lineplot(x=wx, y=wy, color='red', lw=1.15, ax=ax, estimator=None, sort=False, label='Strongly warming', legend=False)
    sns.lineplot(x=cx, y=cy, color='blue', lw=1.15, ax=ax, estimator=None, sort=False, label='Strongly cooling', legend=False)
    ax.set_xlim(*xlim)
    ax.set_ylim(*ylim)
    ax.set_xticks(xticks)
    ax.set_yticks(yticks, [yfmt % v for v in yticks])
    ax.grid(True, color='black', alpha=0.1, lw=0.9)
    ax.set_axisbelow(True)
    ax.set_title(title)
    ax.set_ylabel(ylabel if ylabel else '')


ax_a = box(261.5, 966.5, 104.5, 456.5)
world_map(ax_a, a_patches, [(a_blue, .14, .5), (a_cyan, .26, .5), (a_green, .4, .55), (a_yellow, .58, .55), (a_orange, .74, .55), (a_red, .88, .7)],
          '(a) Location of strongly warming\ncontrail segments (km)', .4253, .1796)
ax_a.set_yticks(lat_ticks, lat_labels)

ax_b = box(1105, 1810, 104.5, 456.5)
world_map(ax_b, b_patches, [(b_blue, .14, .5), (b_cyan, .26, .5), (b_green, .4, .55), (b_yellow, .58, .55), (b_orange, .74, .55), (b_red, .88, .7)],
          '(b) Location of strongly cooling\ncontrail segments (km)', .4267, .1607)
ax_b.set_yticks([])

heat_panel(box(213, 630, 641, 937), heat_warm, '(c) Strongly warming contrail\nsegments (km)', 'Altitude (ft.)')
heat_panel(box(825.7, 1242, 641, 937), heat_cool, '(d) Strongly cooling contrail\nsegments (km)')

line_panel(box(1456, 1873, 642, 937), day_x, day_warm, day_x, day_cool, '(e) Day of year',
           (-1.8, 367.5), (.00118, .00536), [0, 90, 180, 270, 360], [.002, .004], '%.3f', 'Density')

ax_f = box(213, 630, 1136.7, 1432)
line_panel(ax_f, hour_x, hour_warm, hour_x, hour_cool, '(f) Local time',
           (-0.6, 24), (-.0115, .22), [0, 6, 12, 18, 24], [0, .1, .2], '%.1f', 'Density')
ax_f.set_xticks([3, 9, 15, 21], minor=True)
ax_f.grid(True, which='minor', axis='x', color='black', alpha=0.1, lw=0.9)

ax_g = box(825.7, 1241.5, 1136.7, 1432)
line_panel(ax_g, nvpm_warm_x, nvpm_warm, nvpm_cool_x, nvpm_cool, '(g) nvPM per dist. ($\\times$ 10$^{12}$ m$^{-1}$)',
           (.5, 20), (0, .5175), [5, 10, 15, 20], [0, .2, .4], '%.1f')
ax_g.legend(loc='upper right', fontsize=7.5, frameon=True, fancybox=True, framealpha=0.8, edgecolor='0.8', labelspacing=0.6, bbox_to_anchor=(.97, .963), borderaxespad=0)

line_panel(box(1456.7, 1873.7, 1136.7, 1432), dt_warm_x, dt_warm, dt_cool_x, dt_cool, '(h) d$T_{\\mathrm{SAC}}$ (K)',
           (-28.3, 1.14), (-.0062, .1214), [-20, -10, 0], [0, .05, .1], '%.2f')

ax_i = box(213.6, 629.6, 1632, 1927.7)
line_panel(ax_i, albedo_warm_x, albedo_warm, albedo_cool_x, albedo_cool, '(i) Mean lifetime albedo\nalong contrails',
           (-.0139, .84), (-.225, 4.41), [0, .25, .5, .75], [0, 2, 4], '%d', 'Density')
ax_i.set_xticks([0, .25, .5, .75], ['0.00', '0.25', '0.50', '0.75'])

ax_j = box(825.7, 1242, 1632, 1927.7)
line_panel(ax_j, olr_warm_x, olr_warm, olr_cool_x, olr_cool, '(j) Mean lifetime OLR\nalong contrails (W m$^{-2}$)',
           (78.5, 370.3), (-.00071, .0139), [100, 200, 300], [0, .005, .01], '%.3f')
ax_j.title.set_x(.515)

ax_k = box(1456.3, 1873.6, 1632, 1927.7)
line_panel(ax_k, tau_warm_x, tau_warm, tau_cool_x, tau_cool, '(k) Mean lifetime $\\tau_{\\mathrm{cirrus}}$\nalong contrails',
           (0, 1.5), (-.2, 4.19), [0, .5, 1, 1.5], [0, 2, 4], '%d')
ax_k.title.set_x(.482)

fig.savefig('out.png', dpi=DPI)
